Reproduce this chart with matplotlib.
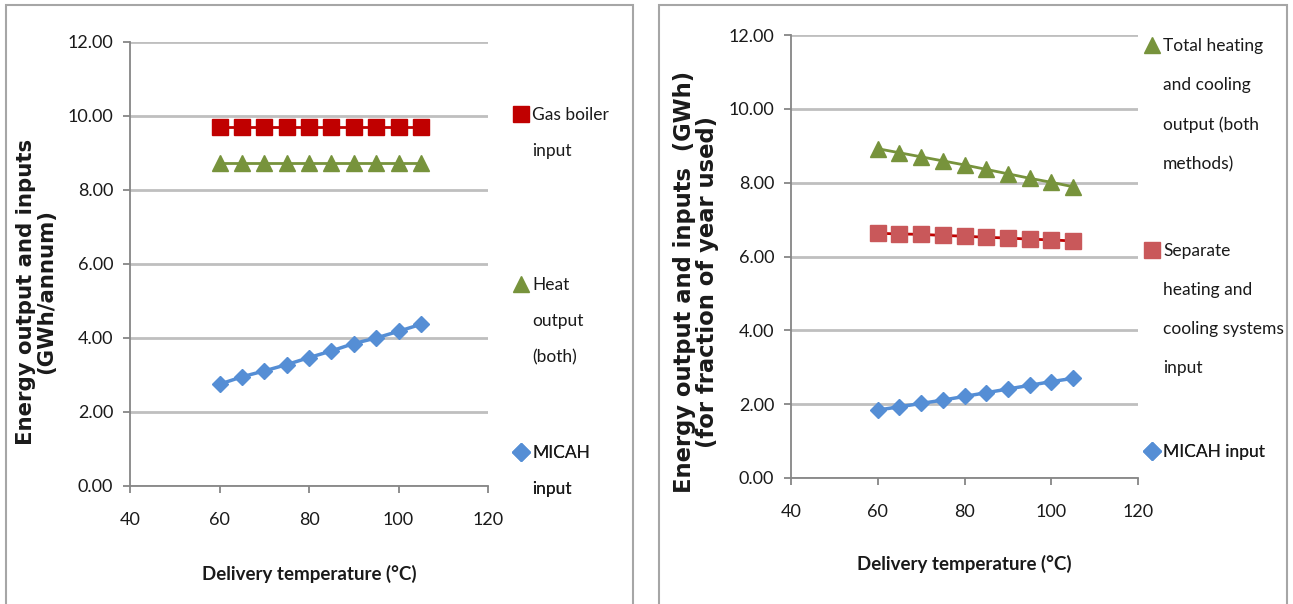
import matplotlib
matplotlib.use("Agg")
import matplotlib.pyplot as plt
from matplotlib.lines import Line2D
from matplotlib.patches import Rectangle

# data
temps = [60, 65, 70, 75, 80, 85, 90, 95, 100, 105]

gas_boiler = [9.70, 9.70, 9.70, 9.70, 9.70, 9.70, 9.70, 9.70, 9.70, 9.70]
heat_output = [8.72, 8.72, 8.72, 8.72, 8.72, 8.72, 8.72, 8.72, 8.72, 8.72]
micah_annual = [2.75, 2.95, 3.11, 3.28, 3.47, 3.65, 3.85, 4.00, 4.18, 4.37]

total_hc = [8.92, 8.81, 8.70, 8.59, 8.48, 8.36, 8.24, 8.12, 8.01, 7.89]
separate_hc = [6.63, 6.61, 6.60, 6.57, 6.55, 6.52, 6.50, 6.47, 6.45, 6.42]
micah_frac = [1.84, 1.93, 2.02, 2.11, 2.21, 2.31, 2.41, 2.51, 2.61, 2.70]

y_ticks = [0, 2, 4, 6, 8, 10, 12]
x_ticks = [40, 60, 80, 100, 120]

RED = '#C00000'
RED_LIGHT = '#C9585A'
GREEN = '#77933C'
BLUE = '#558ED5'
GRID = '#BFBFBF'
AXIS = '#868686'
TXT = '#1a1a1a'

W, H = 1293, 604
fig = plt.figure(figsize=(W / 100, H / 100), dpi=100)


def fx(px):
    return px / W


def fy(py):
    return 1 - py / H


# panel frames
for x0, x1 in [(6, 633), (659, 1287)]:
    fig.patches.append(Rectangle((fx(x0), -0.1), fx(x1 - x0), fy(5) + 0.1,
                                 transform=fig.transFigure, fill=False,
                                 edgecolor='#A6A6A6', linewidth=1.5))


def style_axes(ax):
    ax.set_xlim(40, 120)
    ax.set_ylim(0, 12)
    ax.set_xticks(x_ticks)
    ax.set_yticks(y_ticks)
    ax.set_yticklabels([f'{v:.2f}' for v in y_ticks])
    ax.grid(axis='y', color=GRID, linewidth=2)
    ax.set_axisbelow(True)
    for s in ['top', 'right']:
        ax.spines[s].set_visible(False)
    for s in ['left', 'bottom']:
        ax.spines[s].set_color(AXIS)
        ax.spines[s].set_linewidth(1.3)
    ax.tick_params(axis='y', length=5, width=1.3, color=AXIS, pad=7,
                   labelsize=13, labelcolor=TXT)
    ax.tick_params(axis='x', length=5, width=1.3, color=AXIS, pad=14,
                   labelsize=13, labelcolor=TXT)
    for lab in ax.get_xticklabels() + ax.get_yticklabels():
        lab.set_family('Lato')


def add_entry(ax, handle, lines, left_px, top_px, spacing):
    blank = Line2D([], [], linestyle='none')
    leg = ax.legend([handle] + [blank] * (len(lines) - 1), lines,
                    loc='upper left', bbox_to_anchor=(fx(left_px), fy(top_px)),
                    bbox_transform=fig.transFigure, frameon=False,
                    borderpad=0, borderaxespad=0, handlelength=0.8,
                    handletextpad=0.25, labelspacing=spacing,
                    prop={'family': 'Lato', 'size': 12.5})
    for t in leg.get_texts():
        t.set_color(TXT)
    ax.add_artist(leg)


# ---- left panel: annual ----
ax1 = fig.add_axes([fx(130), fy(486), fx(488 - 130), (486 - 42) / H])
ax1.plot(temps, gas_boiler, color=RED, marker='s', markersize=11.5, linewidth=2)
ax1.plot(temps, heat_output, color=GREEN, marker='^', markersize=11.5, linewidth=2)
ax1.plot(temps, micah_annual, color=BLUE, marker='D', markersize=8.5, linewidth=2.5)
style_axes(ax1)
ax1.set_xlabel('Delivery temperature (°C)', family='Lato', weight='bold',
               fontsize=13.5, color=TXT, labelpad=26)
fig.text(fx(36), fy(292), 'Energy output and inputs\n(GWh/annum)', rotation=90,
         ha='center', va='center', family='DejaVu Sans', weight='bold',
         fontsize=15.3, color=TXT, linespacing=1.05)

sq = Line2D([], [], color=RED, marker='s', markersize=11.5, linestyle='none')
tri = Line2D([], [], color=GREEN, marker='^', markersize=11.5, linestyle='none')
dia = Line2D([], [], color=BLUE, marker='D', markersize=9, linestyle='none')
add_entry(ax1, sq, ['Gas boiler', 'input'], 514, 107, 1.15)
add_entry(ax1, tri, ['Heat', 'output', '(both)'], 514, 277, 1.15)
add_entry(ax1, dia, ['MICAH', 'input'], 514, 445, 1.15)

# ---- right panel: fraction of year ----
ax2 = fig.add_axes([fx(791), fy(478), fx(1138 - 791), (478 - 35) / H])
ax2.plot(temps, total_hc, color=GREEN, marker='^', markersize=11, linewidth=2)
ax2.plot(temps, separate_hc, color=RED, marker='s', markersize=11.5, linewidth=2,
         markerfacecolor=RED_LIGHT, markeredgecolor=RED_LIGHT)
ax2.plot(temps, micah_frac, color=BLUE, marker='D', markersize=8.5, linewidth=2.5)
style_axes(ax2)
ax2.set_xlabel('Delivery temperature (°C)', family='Lato', weight='bold',
               fontsize=13.5, color=TXT, labelpad=25)
fig.text(fx(696), fy(282), 'Energy output and inputs  (GWh)\n(for fraction of year used)',
         rotation=90, ha='center', va='center', family='DejaVu Sans', weight='bold',
         fontsize=16.3, color=TXT, linespacing=1.0)

sq2 = Line2D([], [], color=RED_LIGHT, marker='s', markersize=11.5, linestyle='none')
add_entry(ax2, tri, ['Total heating', 'and cooling', 'output (both', 'methods)'],
          1145, 38, 1.33)
add_entry(ax2, sq2, ['Separate', 'heating and', 'cooling systems', 'input'],
          1145, 243, 1.33)
add_entry(ax2, dia, ['MICAH input'], 1145, 444, 1.33)

fig.savefig('out.png', dpi=100)
